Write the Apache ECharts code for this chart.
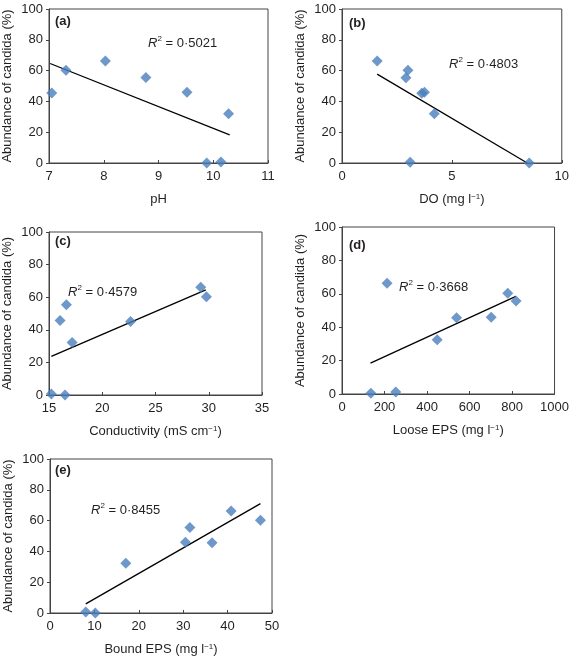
<!DOCTYPE html>
<html><head><meta charset="utf-8">
<script src="https://cdn.jsdelivr.net/npm/echarts@6/dist/echarts.min.js"></script>
<style>html,body{margin:0;padding:0;background:#fff}#c{width:572px;height:657px}</style>
</head><body><div id="c"></div>
<script>
// Panel (a) pH
const phX = [7.05, 7.31, 8.03, 8.77, 9.52, 10.28, 9.88, 10.14];
const phY = [45.5, 60.3, 66.2, 55.5, 46.0, 31.9, 0.0, 0.6];
const phTrendX = [7.02, 10.30];
const phTrendY = [64.6, 18.2];
// Panel (b) DO
const doX = [1.60, 3.00, 2.91, 3.63, 3.75, 4.20, 3.10, 8.52];
const doY = [66.2, 60.3, 55.3, 45.3, 46.0, 31.9, 0.5, 0.0];
const doTrendX = [1.60, 8.43];
const doTrendY = [57.7, 0.0];
// Panel (c) Conductivity
const condX = [15.22, 16.50, 16.04, 16.63, 17.17, 22.66, 29.25, 29.78];
const condY = [0.6, 0.0, 45.7, 55.3, 32.2, 45.1, 66.1, 60.2];
const condTrendX = [15.22, 29.72];
const condTrendY = [23.7, 64.5];
// Panel (d) Loose EPS
const looseX = [136, 253, 212, 448, 539, 702, 780, 819];
const looseY = [0.4, 1.2, 66.3, 32.5, 45.7, 46.0, 60.4, 55.7];
const looseTrendX = [134, 818];
const looseTrendY = [18.5, 58.5];
// Panel (e) Bound EPS
const boundX = [8.05, 10.2, 17.07, 30.5, 31.5, 36.5, 40.8, 47.4];
const boundY = [0.7, 0.0, 32.3, 46.0, 55.5, 45.6, 66.2, 60.3];
const boundTrendX = [8.05, 47.4];
const boundTrendY = [5.9, 71.0];

const panelLabels = ['(a)', '(b)', '(c)', '(d)', '(e)'];
const r2Values = ['0·5021', '0·4803', '0·4579', '0·3668', '0·8455'];
const xNames = ['pH', 'DO (mg l{sup|−1})', 'Conductivity (mS cm{sup|−1})', 'Loose EPS (mg l{sup|−1})', 'Bound EPS (mg l{sup|−1})'];
const xMins = [7, 0, 15, 0, 0];
const xMaxs = [11, 10, 35, 1000, 50];
const xIntervals = [1, 5, 5, 200, 10];
const yName = 'Abundance of candida (%)';

const panels = [
  {x: phX, y: phY, tx: phTrendX, ty: phTrendY},
  {x: doX, y: doY, tx: doTrendX, ty: doTrendY},
  {x: condX, y: condY, tx: condTrendX, ty: condTrendY},
  {x: looseX, y: looseY, tx: looseTrendX, ty: looseTrendY},
  {x: boundX, y: boundY, tx: boundTrendX, ty: boundTrendY}
];

const FONT = 'Liberation Sans, Arial, Helvetica, sans-serif';
const TXT = '#231f20';
const FS = 13;
const grids = [
  {left: 49, top: 9, width: 219, height: 154},
  {left: 342, top: 9, width: 222, height: 154},
  {left: 49, top: 232, width: 213, height: 163},
  {left: 342, top: 227, width: 216, height: 167},
  {left: 50, top: 459, width: 222, height: 154}
];
const labelPos = [[55, 15], [349, 17], [55, 235], [349, 239], [55, 464]];
const r2Pos = [[148, 35], [449, 56], [68, 284], [399, 279], [91, 502]];

const axisStyle = {lineStyle: {color: '#444', width: 1}};
const option = {
  animation: false,
  backgroundColor: '#fff',
  grid: grids.map(g => Object.assign({show: true, borderColor: '#444', borderWidth: 1, backgroundColor: 'transparent'}, g)),
  xAxis: grids.map((g, i) => ({
    type: 'value', gridIndex: i, min: xMins[i], max: xMaxs[i], interval: xIntervals[i],
    name: xNames[i], nameLocation: 'middle', nameGap: 30,
    nameTextStyle: {fontFamily: FONT, fontSize: FS, color: TXT,
      rich: {sup: {fontSize: 8, verticalAlign: 'top', lineHeight: 10, fontFamily: FONT, color: TXT}}},
    axisLine: axisStyle, splitLine: {show: false},
    axisTick: {inside: true, length: 3, lineStyle: {color: '#444'}},
    axisLabel: {fontFamily: FONT, fontSize: FS, color: TXT, margin: 7, formatter: v => String(v)}
  })),
  yAxis: grids.map((g, i) => ({
    type: 'value', gridIndex: i, min: 0, max: 100, interval: 20,
    name: yName, nameLocation: 'middle', nameGap: 35, nameRotate: 90,
    nameTextStyle: {fontFamily: FONT, fontSize: FS, color: TXT},
    axisLine: axisStyle, splitLine: {show: false},
    axisTick: {inside: false, length: 3, lineStyle: {color: '#444'}},
    axisLabel: {fontFamily: FONT, fontSize: FS, color: TXT, margin: 6}
  })),
  series: [],
  graphic: []
};
panels.forEach((p, i) => {
  option.series.push({
    type: 'line', xAxisIndex: i, yAxisIndex: i, data: p.tx.map((v, k) => [v, p.ty[k]]),
    symbol: 'none', lineStyle: {color: '#000', width: 1.3}, z: 2
  });
  option.series.push({
    type: 'scatter', xAxisIndex: i, yAxisIndex: i, data: p.x.map((v, k) => [v, p.y[k]]),
    symbol: 'diamond', symbolSize: 11, itemStyle: {color: '#4a7ebb'}, z: 3
  });
  option.graphic.push({
    type: 'text', left: labelPos[i][0], top: labelPos[i][1], z: 10,
    style: {text: panelLabels[i], font: 'bold 13px ' + FONT, fill: TXT}
  });
  option.graphic.push({
    type: 'text', left: r2Pos[i][0], top: r2Pos[i][1], z: 10,
    style: {text: '{i|R}{s|2}{n| = ' + r2Values[i] + '}', fill: TXT,
      rich: {
        i: {fontStyle: 'italic', fontSize: 13, fontFamily: FONT, fill: TXT, lineHeight: 16},
        s: {fontSize: 8, fontFamily: FONT, fill: TXT, verticalAlign: 'top', lineHeight: 10},
        n: {fontSize: 13, fontFamily: FONT, fill: TXT, lineHeight: 16}
      }}
  });
});
const chart = echarts.init(document.getElementById('c'), null, {renderer: 'canvas'});
chart.setOption(option);
</script>
</body></html>
